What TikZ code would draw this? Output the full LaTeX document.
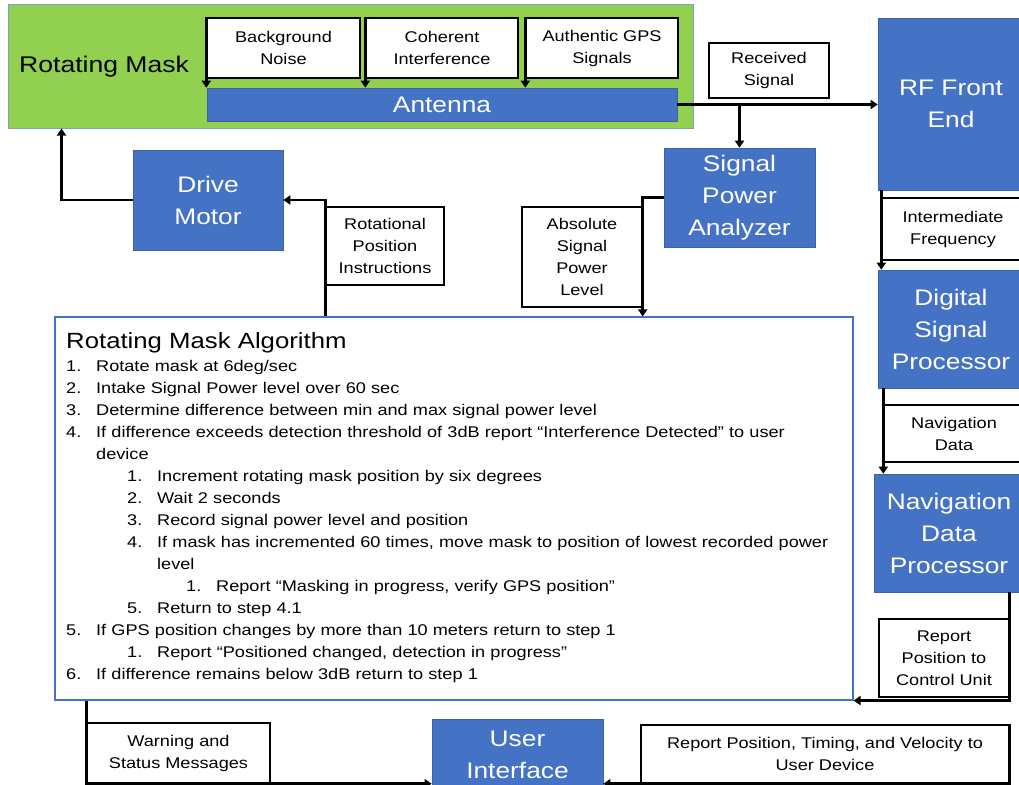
\documentclass[tikz,border=0pt]{standalone}
\usepackage{fontspec}
\setmainfont{Liberation Sans}[FakeStretch=1.17]
\usetikzlibrary{arrows.meta}

\definecolor{boxblue}{HTML}{4472C4}
\definecolor{boxedge}{HTML}{3A62A8}
\definecolor{maskgreen}{HTML}{92D050}
\definecolor{maskedge}{HTML}{7F9CD0}

% one line of the numbered procedure: indent, number, text
\newcommand\algline[3]{\hspace*{#1}\makebox[30pt][l]{#2}#3}

\tikzset{
  sz/.style n args={2}{minimum width=#1pt, minimum height=#2pt},
  unit/.style={rectangle, inner sep=0pt, fill=boxblue, draw=boxedge, line width=0.6pt,
    text=white, align=center, font=\fontsize{22.5}{32}\selectfont},
  tag/.style={rectangle, inner sep=0pt, fill=white, draw=black, line width=1.4pt,
    align=center, font=\fontsize{15.5}{22}\selectfont},
  maskbox/.style={rectangle, inner sep=0pt, fill=maskgreen, draw=maskedge, line width=1pt},
  algbox/.style={rectangle, inner sep=0pt, fill=white, draw=boxblue, line width=1.1pt},
  flow/.style={line width=2.6pt, -{Triangle[length=7pt,width=9pt]}},
}

\begin{document}
\begin{tikzpicture}[x=1pt, y=-1pt]
\useasboundingbox (0,0) rectangle (1019,784);
\fill[white] (0,0) rectangle (1019,784);

% rotating mask assembly
\node[maskbox, sz={685}{123}] (mask) at (350.5,66.5) {};
\node[anchor=west, inner sep=0pt, font=\fontsize{22.7}{27}\selectfont] (masklbl) at (19,67) {Rotating Mask};
\node[tag, sz={153}{60}] (bn) at (283.5,48) {Background\\Noise};
\node[tag, sz={152}{60}] (ci) at (442,48) {Coherent\\Interference};
\node[tag, sz={152}{60}] (ag) at (602,48) {Authentic GPS\\Signals};
\node[unit, sz={470}{33}] (ant) at (442,104.5) {Antenna};

% receiver chain
\node[tag, sz={120}{55}] (rs) at (769,70.5) {Received\\Signal};
\node[unit, sz={146}{172}] (rf) at (951,104) {RF Front\\End};
\node[unit, sz={151}{99}] (spa) at (739.5,197.5) {Signal\\Power\\Analyzer};
\node[tag, sz={142}{62}] (if) at (953,229) {Intermediate\\Frequency};
\node[unit, sz={146}{118}] (dsp) at (951,329) {Digital\\Signal\\Processor};
\node[tag, sz={140}{57}] (nd) at (954,433.5) {Navigation\\Data};
\node[unit, sz={150}{118}] (ndp) at (949,533) {Navigation\\Data\\Processor};
\node[tag, sz={130}{78}] (rpc) at (944,658) {Report\\Position to\\Control Unit};

% motor and control
\node[unit, sz={150}{100}] (dm) at (208,200) {Drive\\Motor};
\node[tag, sz={118}{78}] (rpi) at (385,246) {Rotational\\Position\\Instructions};
\node[tag, sz={120}{100}] (asp) at (582,257) {Absolute\\Signal\\Power\\Level};

% algorithm panel
\node[algbox, sz={798}{383}] (alg) at (454,508.5) {};
\node[anchor=base west, inner sep=0pt, font=\fontsize{22}{26}\selectfont] (algtitle) at (66,348) {Rotating Mask Algorithm};
\node[anchor=base west, inner sep=0pt, align=left, text width=780pt,
      font=\fontsize{15.5}{22}\selectfont] (algsteps) at (66,371) {%
\algline{0pt}{1.}{Rotate mask at 6deg/sec}\\
\algline{0pt}{2.}{Intake Signal Power level over 60 sec}\\
\algline{0pt}{3.}{Determine difference between min and max signal power level}\\
\algline{0pt}{4.}{If difference exceeds detection threshold of 3dB report “Interference Detected” to user}\\
\algline{0pt}{}{device}\\
\algline{61pt}{1.}{Increment rotating mask position by six degrees}\\
\algline{61pt}{2.}{Wait 2 seconds}\\
\algline{61pt}{3.}{Record signal power level and position}\\
\algline{61pt}{4.}{If mask has incremented 60 times, move mask to position of lowest recorded power}\\
\algline{61pt}{}{level}\\
\algline{120pt}{1.}{Report “Masking in progress, verify GPS position”}\\
\algline{61pt}{5.}{Return to step 4.1}\\
\algline{0pt}{5.}{If GPS position changes by more than 10 meters return to step 1}\\
\algline{61pt}{1.}{Report “Positioned changed, detection in progress”}\\
\algline{0pt}{6.}{If difference remains below 3dB return to step 1}};

% user side
\node[tag, sz={183}{60}] (wsm) at (178.5,753) {Warning and\\Status Messages};
\node[unit, sz={171}{71}] (ui) at (517.5,754.5) {User\\Interface};
\node[tag, sz={368}{58}] (rptv) at (825,754) {Report Position, Timing, and Velocity to\\User Device};

% connectors
\draw[flow] (bn.north west) -- (bn.north west |- ant.north);
\draw[flow] (ci.north west) -- (ci.north west |- ant.north);
\draw[flow] (ag.north west) -- (ag.north west |- ant.north);
\draw[flow] (ant.east) -- (ant.east -| rf.west);
\draw[flow] (ant.east -| spa.north) -- (spa.north);
\draw[flow] (spa.west) -| (asp.east |- alg.north);
\draw[flow] (rpi.west |- alg.north) |- (dm.east);
\draw[flow] (dm.west) -| ([xshift=54pt]mask.south west);
\draw[flow] (if.west |- rf.south) -- (if.west |- dsp.north);
\draw[flow] (nd.west |- dsp.south) -- (nd.west |- ndp.north);
\draw[flow] (rpc.east |- ndp.south) |- (alg.south east);
\draw[flow] (wsm.north west |- alg.south) |- (ui.west |- wsm.south);
\draw[flow] (rptv.north east) |- (ui.east |- rptv.south);
\end{tikzpicture}
\end{document}
